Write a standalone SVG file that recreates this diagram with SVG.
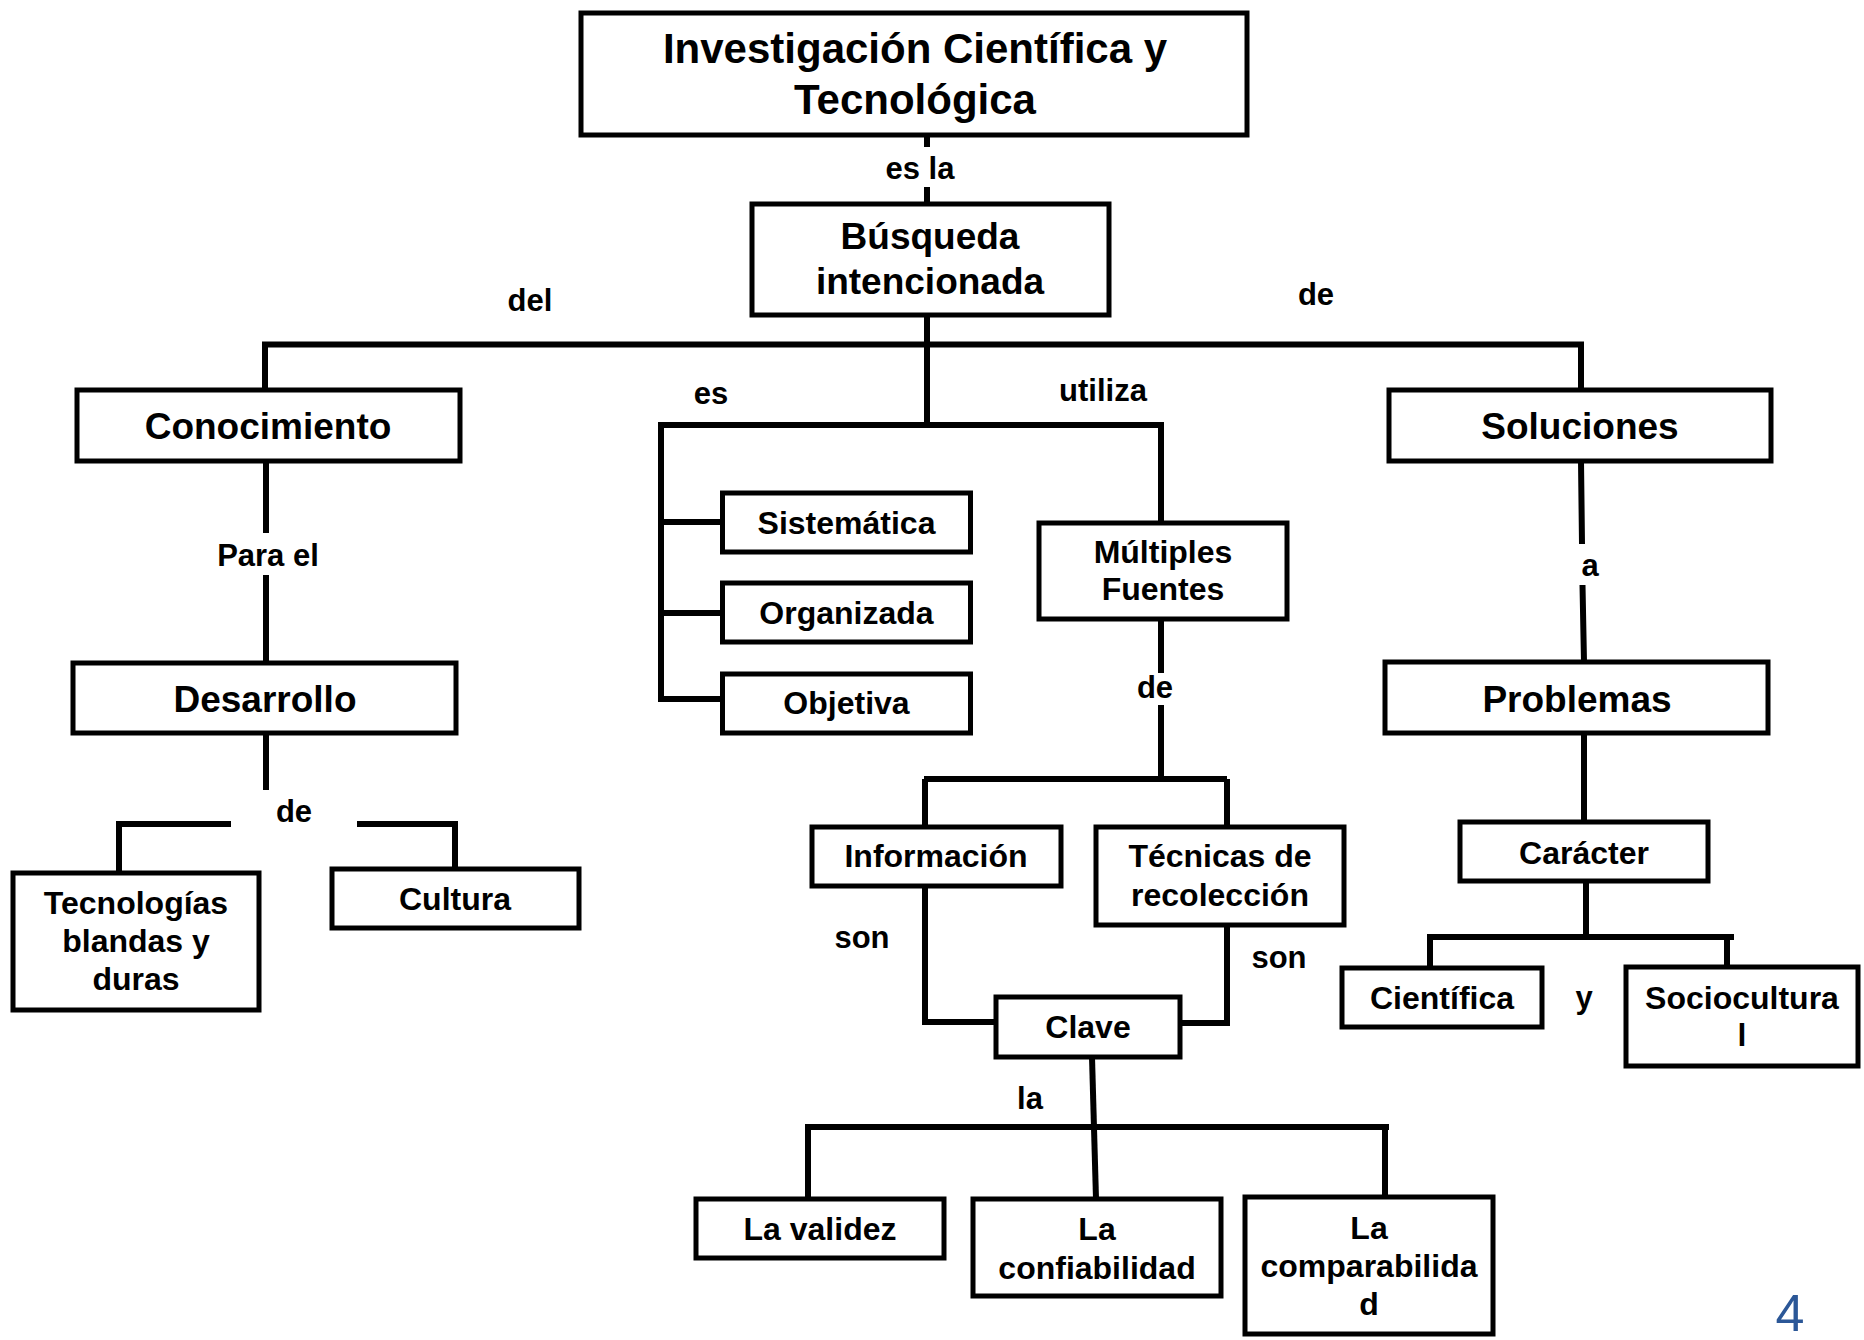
<svg xmlns="http://www.w3.org/2000/svg" width="1864" height="1340" viewBox="0 0 1864 1340">
<style>
.box{fill:#fff;stroke:#000;stroke-width:5}
.c{fill:none;stroke:#000;stroke-width:6;stroke-linecap:butt}
text{font-family:"Liberation Sans",Arial,sans-serif;font-weight:bold;fill:#000;text-anchor:middle}
.t42{font-size:42px}
.t37{font-size:37px}
.t32{font-size:32px}
.lbl{font-size:31px}
.pg{font-weight:normal;font-size:52px;fill:#2B5797}
</style>
<rect width="1864" height="1340" fill="#fff"/>
<g id="connectors">
<path class="c" d="M927 135V147M927 187V204"/>
<path class="c" d="M927 315V425"/>
<path class="c" d="M265 390V344.5H1581V390"/>
<path class="c" d="M661 425H1161V523"/>
<path class="c" d="M661 422V699H722M661 522H722M661 613H722"/>
<path class="c" d="M266 461V533M266 575V663"/>
<path class="c" d="M266 733V790"/>
<path class="c" d="M119 873V824H231M357 824H455V869"/>
<path class="c" d="M1161 619V673M1161 705V779"/>
<path class="c" d="M924 779H1227M925 779V827M1227 779V827"/>
<path class="c" d="M925 886V1022H996M1227 925V1023H1180"/>
<path class="c" d="M1092 1057L1096 1199"/>
<path class="c" d="M808 1199V1127H1389M1385 1127V1197"/>
<path class="c" d="M1581 461L1582 544M1582.5 585L1584 662"/>
<path class="c" d="M1584 733V822"/>
<path class="c" d="M1586 881V937M1430 968V937H1734M1727 937V967"/>
</g>
<g id="labels">
<text class="lbl" x="920" y="179">es la</text>
<text class="lbl" x="530" y="311">del</text>
<text class="lbl" x="1316" y="305">de</text>
<text class="lbl" x="711" y="404">es</text>
<text class="lbl" x="1103" y="401">utiliza</text>
<text class="lbl" x="268" y="566">Para el</text>
<text class="lbl" x="1590" y="576">a</text>
<text class="lbl" x="294" y="822">de</text>
<text class="lbl" x="1155" y="698">de</text>
<text class="lbl" x="862" y="948">son</text>
<text class="lbl" x="1279" y="968">son</text>
<text class="lbl" x="1030" y="1109">la</text>
<text class="lbl" x="1584" y="1008">y</text>
</g>
<g id="n_title"><rect class="box" x="581" y="13" width="666" height="122"/><text class="t42" x="915" y="63">Investigación Científica y</text><text class="t42" x="915" y="114">Tecnológica</text></g>
<g id="n_busqueda"><rect class="box" x="752" y="204" width="357" height="111"/><text class="t37" x="930" y="249">Búsqueda</text><text class="t37" x="930" y="294">intencionada</text></g>
<g id="n_conocimiento"><rect class="box" x="77" y="390" width="383" height="71"/><text class="t37" x="268" y="439">Conocimiento</text></g>
<g id="n_soluciones"><rect class="box" x="1389" y="390" width="382" height="71"/><text class="t37" x="1580" y="439">Soluciones</text></g>
<g id="n_desarrollo"><rect class="box" x="73" y="663" width="383" height="70"/><text class="t37" x="265" y="712">Desarrollo</text></g>
<g id="n_problemas"><rect class="box" x="1385" y="662" width="383" height="71"/><text class="t37" x="1577" y="712">Problemas</text></g>
<g id="n_tecnologias"><rect class="box" x="13" y="873" width="246" height="137"/><text class="t32" x="136" y="914">Tecnologías</text><text class="t32" x="136" y="952">blandas y</text><text class="t32" x="136" y="990">duras</text></g>
<g id="n_cultura"><rect class="box" x="332" y="869" width="247" height="59"/><text class="t32" x="455" y="910">Cultura</text></g>
<g id="n_sistematica"><rect class="box" x="722.5" y="493" width="248" height="59"/><text class="t32" x="846.5" y="534">Sistemática</text></g>
<g id="n_organizada"><rect class="box" x="722.5" y="583" width="248" height="59"/><text class="t32" x="846.5" y="624">Organizada</text></g>
<g id="n_objetiva"><rect class="box" x="722.5" y="674" width="248" height="59"/><text class="t32" x="846.5" y="714">Objetiva</text></g>
<g id="n_multiples"><rect class="box" x="1039" y="523" width="248" height="96"/><text class="t32" x="1163" y="563">Múltiples</text><text class="t32" x="1163" y="600">Fuentes</text></g>
<g id="n_informacion"><rect class="box" x="812" y="827" width="249" height="59"/><text class="t32" x="936" y="867">Información</text></g>
<g id="n_tecnicas"><rect class="box" x="1096" y="827" width="248" height="98"/><text class="t32" x="1220" y="867">Técnicas de</text><text class="t32" x="1220" y="906">recolección</text></g>
<g id="n_clave"><rect class="box" x="996" y="997" width="184" height="60"/><text class="t32" x="1088" y="1038">Clave</text></g>
<g id="n_caracter"><rect class="box" x="1460" y="822" width="248" height="59"/><text class="t32" x="1584" y="864">Carácter</text></g>
<g id="n_cientifica"><rect class="box" x="1342" y="968" width="200" height="59"/><text class="t32" x="1442" y="1009">Científica</text></g>
<g id="n_sociocultural"><rect class="box" x="1626" y="967" width="232" height="99"/><text class="t32" x="1742" y="1009">Sociocultura</text><text class="t32" x="1742" y="1046">l</text></g>
<g id="n_validez"><rect class="box" x="696" y="1199" width="248" height="59"/><text class="t32" x="820" y="1240">La validez</text></g>
<g id="n_confiabilidad"><rect class="box" x="973" y="1199" width="248" height="97"/><text class="t32" x="1097" y="1240">La</text><text class="t32" x="1097" y="1279">confiabilidad</text></g>
<g id="n_comparabilidad"><rect class="box" x="1245" y="1197" width="248" height="137"/><text class="t32" x="1369" y="1239">La</text><text class="t32" x="1369" y="1277">comparabilida</text><text class="t32" x="1369" y="1315">d</text></g>
<text class="pg" x="1790" y="1331">4</text>
</svg>
